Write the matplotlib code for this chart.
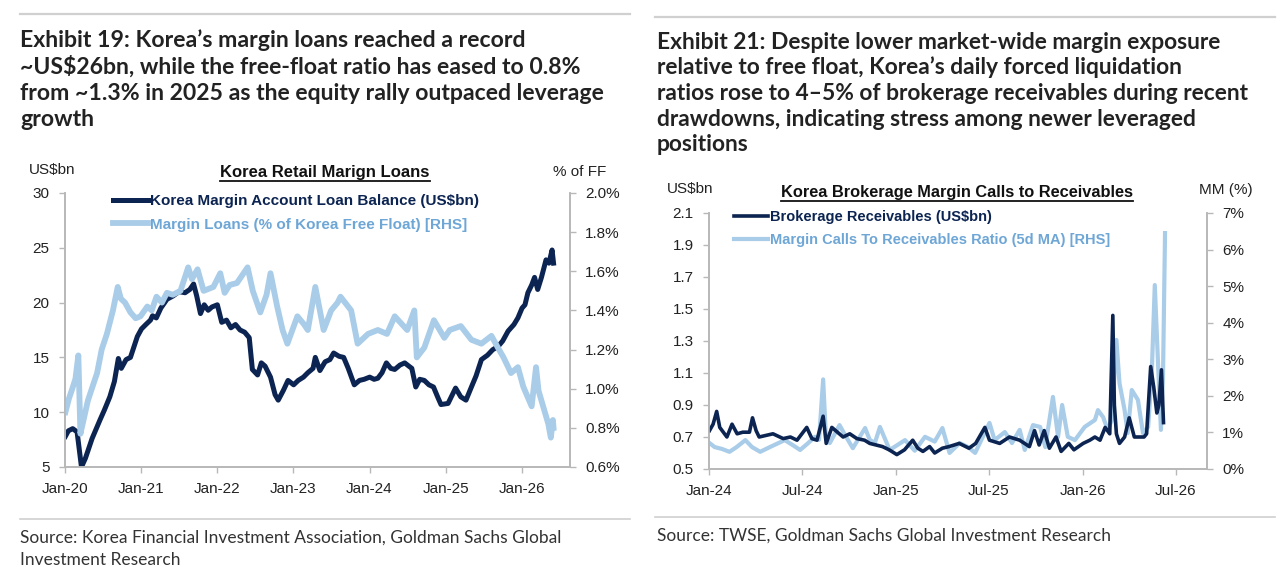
"""
Korea margin loans - two exhibit panels (Exhibit 19 / Exhibit 21)
"""

import pandas as pd
import matplotlib
matplotlib.use('Agg')
import matplotlib.pyplot as plt
import matplotlib.dates as mdates
from matplotlib.lines import Line2D
from matplotlib.ticker import FuncFormatter, MultipleLocator

# Colours
DARK = '#0c2451'
LIGHT = '#a9cce8'
LIGHT_TXT = '#6ea6d6'
AX_GREY = '#b8b8b8'
TXT = '#222222'
SEP = '#d0d0d0'

W, H = 1280, 567

# ---------------------------------------------------------------------------
# Exhibit 19 data: margin loan balance (US$bn) and % of free float
# ---------------------------------------------------------------------------
loan_dates = [
    '2020-01-03', '2020-01-17', '2020-02-07', '2020-02-28', '2020-03-20', '2020-04-08',
    '2020-05-10', '2020-06-17', '2020-07-08', '2020-08-03', '2020-08-25', '2020-09-13',
    '2020-09-27', '2020-10-20', '2020-11-10', '2020-12-13', '2021-01-02', '2021-01-23',
    '2021-02-14', '2021-02-24', '2021-03-14', '2021-04-05', '2021-05-04', '2021-06-02',
    '2021-07-01', '2021-07-30', '2021-08-22', '2021-09-09', '2021-09-24', '2021-10-12',
    '2021-10-30', '2021-11-18', '2021-12-06', '2022-01-01', '2022-01-22', '2022-02-14',
    '2022-03-07', '2022-03-29', '2022-04-20', '2022-05-12', '2022-06-03', '2022-06-18',
    '2022-07-13', '2022-07-31', '2022-08-18', '2022-09-13', '2022-10-05', '2022-10-20',
    '2022-11-14', '2022-12-06', '2023-01-02', '2023-01-24', '2023-02-18', '2023-03-11',
    '2023-04-05', '2023-04-16', '2023-05-08', '2023-06-02', '2023-06-25', '2023-07-13',
    '2023-08-08', '2023-08-30', '2023-09-21', '2023-10-20', '2023-11-14', '2023-12-06',
    '2024-01-02', '2024-01-23', '2024-02-10', '2024-03-01', '2024-03-22', '2024-04-12',
    '2024-05-01', '2024-05-26', '2024-06-18', '2024-07-08', '2024-07-22', '2024-08-10',
    '2024-08-29', '2024-09-20', '2024-10-12', '2024-11-03', '2024-11-25', '2024-12-09',
    '2025-01-12', '2025-01-30', '2025-02-17', '2025-03-14', '2025-04-08', '2025-05-04',
    '2025-05-26', '2025-06-21', '2025-07-20', '2025-08-14', '2025-09-09', '2025-10-01',
    '2025-10-27', '2025-11-24', '2025-12-13', '2026-01-02', '2026-01-16', '2026-01-30',
    '2026-02-17', '2026-03-03', '2026-03-18', '2026-04-05', '2026-04-27', '2026-05-11',
    '2026-05-26', '2026-06-02',
]
loan_bal = [
    7.8, 8.3, 8.5, 8.2, 5.0, 5.8,
    7.6, 9.3, 10.2, 11.4, 12.8, 14.9,
    14.0, 14.8, 15.0, 16.9, 17.6, 18.0,
    18.4, 18.8, 18.6, 19.5, 20.3, 20.6,
    21.0, 20.9, 21.2, 21.7, 20.6, 19.0,
    19.8, 19.3, 19.6, 19.8, 18.2, 18.4,
    17.7, 18.0, 17.5, 17.3, 16.8, 13.9,
    13.4, 14.5, 14.2, 13.2, 11.6, 11.1,
    12.0, 12.9, 12.5, 12.9, 13.2, 13.6,
    14.0, 15.0, 13.8, 14.6, 14.8, 15.4,
    15.1, 15.0, 14.0, 12.5, 12.9, 13.0,
    13.2, 13.0, 13.1, 13.6, 14.5, 14.0,
    13.9, 14.3, 14.5, 14.2, 14.0, 12.3,
    13.0, 12.9, 12.5, 12.3, 11.3, 10.7,
    10.8, 11.5, 12.2, 11.4, 11.1, 12.3,
    13.3, 14.8, 15.2, 15.7, 16.0, 16.5,
    17.4, 18.0, 18.6, 19.5, 19.8, 20.9,
    21.6, 22.3, 21.2, 22.3, 23.9, 23.6,
    24.8, 23.6,
]

ff_dates = [
    '2020-01-03', '2020-01-20', '2020-02-05', '2020-02-20', '2020-03-05', '2020-03-15',
    '2020-04-01', '2020-04-20', '2020-05-15', '2020-06-03', '2020-06-25', '2020-07-20',
    '2020-08-18', '2020-09-10', '2020-09-25', '2020-10-15', '2020-11-10', '2020-12-05',
    '2020-12-28', '2021-01-30', '2021-02-20', '2021-03-15', '2021-04-10', '2021-05-04',
    '2021-06-01', '2021-07-08', '2021-08-14', '2021-09-01', '2021-09-28', '2021-10-27',
    '2021-12-13', '2022-01-15', '2022-02-05', '2022-03-01', '2022-04-05', '2022-05-26',
    '2022-06-20', '2022-07-26', '2022-08-25', '2022-09-13', '2022-10-15', '2022-11-10',
    '2022-12-03', '2023-01-20', '2023-02-20', '2023-03-11', '2023-04-16', '2023-05-26',
    '2023-07-01', '2023-08-01', '2023-08-15', '2023-10-05', '2023-11-05', '2023-12-25',
    '2024-02-10', '2024-03-25', '2024-05-01', '2024-06-30', '2024-08-03', '2024-08-15',
    '2024-09-20', '2024-11-05', '2024-12-25', '2025-01-20', '2025-03-14', '2025-05-04',
    '2025-06-21', '2025-08-08', '2025-09-08', '2025-10-05', '2025-11-10', '2025-12-13',
    '2026-01-08', '2026-02-17', '2026-03-10', '2026-03-22', '2026-05-08', '2026-05-20',
    '2026-05-30', '2026-06-02',
]
ff_pct = [
    0.88, 0.95, 1.00, 1.05, 1.17, 0.77,
    0.85, 0.94, 1.02, 1.08, 1.20, 1.28,
    1.40, 1.52, 1.46, 1.44, 1.39, 1.36,
    1.37, 1.42, 1.40, 1.47, 1.44, 1.49,
    1.48, 1.50, 1.62, 1.56, 1.61, 1.50,
    1.52, 1.59, 1.49, 1.53, 1.54, 1.62,
    1.50, 1.39, 1.48, 1.59, 1.42, 1.30,
    1.23, 1.37, 1.33, 1.30, 1.52, 1.30,
    1.40, 1.44, 1.47, 1.40, 1.23, 1.28,
    1.30, 1.28, 1.37, 1.30, 1.40, 1.16,
    1.21, 1.35, 1.26, 1.30, 1.32, 1.25,
    1.23, 1.27, 1.21, 1.16, 1.08, 1.11,
    1.01, 0.91, 1.11, 0.99, 0.82, 0.75,
    0.84, 0.80,
]

# ---------------------------------------------------------------------------
# Exhibit 21 data: brokerage receivables (US$bn) and margin-call ratio (%)
# ---------------------------------------------------------------------------
recv_dates = [
    '2024-01-02', '2024-01-09', '2024-01-16', '2024-01-22', '2024-02-05', '2024-02-15',
    '2024-02-25', '2024-03-07', '2024-03-20', '2024-03-26', '2024-04-02', '2024-04-08',
    '2024-05-05', '2024-05-25', '2024-06-08', '2024-06-21', '2024-07-10', '2024-07-20',
    '2024-07-30', '2024-08-11', '2024-08-17', '2024-08-28', '2024-09-19', '2024-10-02',
    '2024-10-16', '2024-10-31', '2024-11-10', '2024-12-05', '2024-12-18', '2025-01-02',
    '2025-01-17', '2025-02-02', '2025-02-12', '2025-02-22', '2025-03-07', '2025-03-17',
    '2025-04-01', '2025-04-14', '2025-05-04', '2025-05-23', '2025-06-05', '2025-06-23',
    '2025-07-02', '2025-07-22', '2025-08-10', '2025-08-30', '2025-09-18', '2025-09-28',
    '2025-10-07', '2025-10-17', '2025-10-27', '2025-11-09', '2025-11-19', '2025-12-04',
    '2025-12-14', '2026-01-01', '2026-01-14', '2026-01-24', '2026-02-03', '2026-02-13',
    '2026-02-22', '2026-02-28', '2026-03-03', '2026-03-07', '2026-03-13', '2026-03-23',
    '2026-04-01', '2026-04-11', '2026-04-30', '2026-05-05', '2026-05-13', '2026-05-19',
    '2026-05-25', '2026-05-29', '2026-06-03', '2026-06-07',
]
recv_bal = [
    0.74, 0.78, 0.86, 0.76, 0.70, 0.78,
    0.72, 0.73, 0.73, 0.82, 0.74, 0.70,
    0.72, 0.69, 0.70, 0.68, 0.76, 0.69,
    0.68, 0.83, 0.66, 0.76, 0.70, 0.72,
    0.69, 0.68, 0.66, 0.64, 0.62, 0.59,
    0.62, 0.68, 0.63, 0.61, 0.64, 0.60,
    0.63, 0.64, 0.66, 0.63, 0.66, 0.76,
    0.68, 0.66, 0.70, 0.68, 0.64, 0.74,
    0.65, 0.74, 0.63, 0.70, 0.61, 0.66,
    0.62, 0.66, 0.68, 0.70, 0.68, 0.76,
    0.72, 1.46, 0.90, 0.72, 0.66, 0.70,
    0.82, 0.70, 0.70, 0.72, 1.14, 1.01,
    0.85, 0.90, 1.12, 0.79,
]

mc_dates = [
    '2024-01-02', '2024-01-12', '2024-01-26', '2024-02-10', '2024-02-24', '2024-03-12',
    '2024-03-25', '2024-04-10', '2024-04-29', '2024-05-28', '2024-06-13', '2024-06-27',
    '2024-07-12', '2024-07-26', '2024-08-03', '2024-08-11', '2024-08-16', '2024-08-24',
    '2024-09-12', '2024-09-24', '2024-10-08', '2024-11-01', '2024-11-10', '2024-11-20',
    '2024-11-30', '2024-12-19', '2025-01-18', '2025-02-06', '2025-02-26', '2025-03-17',
    '2025-04-01', '2025-04-15', '2025-05-05', '2025-05-21', '2025-06-04', '2025-06-19',
    '2025-07-02', '2025-07-12', '2025-08-01', '2025-08-15', '2025-08-30', '2025-09-09',
    '2025-09-25', '2025-10-09', '2025-10-19', '2025-11-03', '2025-11-13', '2025-11-21',
    '2025-12-02', '2025-12-16', '2026-01-04', '2026-01-24', '2026-01-30', '2026-02-09',
    '2026-02-18', '2026-02-26', '2026-03-07', '2026-03-13', '2026-03-23', '2026-03-29',
    '2026-04-06', '2026-04-18', '2026-04-28', '2026-05-08', '2026-05-15', '2026-05-21',
    '2026-05-27', '2026-06-02', '2026-06-06', '2026-06-10',
]
mc_ratio = [
    0.71, 0.60, 0.55, 0.47, 0.60, 0.79,
    0.60, 0.47, 0.60, 0.79, 0.65, 0.52,
    0.70, 0.88, 0.80, 2.45, 1.00, 0.71,
    1.20, 0.90, 0.57, 1.12, 0.80, 0.71,
    1.15, 0.52, 0.79, 0.50, 0.88, 0.75,
    1.12, 0.44, 0.71, 0.60, 0.44, 0.88,
    1.26, 0.79, 1.01, 0.71, 1.07, 0.52,
    1.20, 1.15, 0.60, 1.97, 0.88, 1.75,
    0.88, 0.79, 1.15, 1.34, 1.61, 1.42,
    1.07, 1.34, 3.53, 2.35, 1.61, 0.98,
    2.16, 1.89, 0.98, 1.15, 2.60, 5.03,
    3.00, 1.07, 2.50, 6.45,
]

# axis ticks
recv_ticks = [0.5, 0.7, 0.9, 1.1, 1.3, 1.5, 1.7, 1.9, 2.1]

# Text
title_19 = [
    'Exhibit 19: Korea\u2019s margin loans reached a record',
    '~US$26bn, while the free-float ratio has eased to 0.8%',
    'from ~1.3% in 2025 as the equity rally outpaced leverage',
    'growth',
]
title_21 = [
    'Exhibit 21: Despite lower market-wide margin exposure',
    'relative to free float, Korea\u2019s daily forced liquidation',
    'ratios rose to 4\u20135% of brokerage receivables during recent',
    'drawdowns, indicating stress among newer leveraged',
    'positions',
]
source_19 = ['Source: Korea Financial Investment Association, Goldman Sachs Global',
             'Investment Research']
source_21 = ['Source: TWSE, Goldman Sachs Global Investment Research']

HEAD_FONT = 'Lato'
CHART_FONT = 'Liberation Sans'


def fx(px):
    return px / W


def fy(py):
    return 1 - py / H


def style_axes(ax, axr, grey=AX_GREY):
    for a in (ax, axr):
        a.spines['top'].set_visible(False)
        for s in ('left', 'right', 'bottom'):
            a.spines[s].set_color(grey)
            a.spines[s].set_linewidth(1.2)
        a.tick_params(colors=grey, labelcolor=TXT, length=4, width=1,
                      labelsize=11, pad=7)
        for lab in a.get_xticklabels() + a.get_yticklabels():
            lab.set_family(CHART_FONT)


def underlined_title(fig, x, y, text, size):
    t = fig.text(fx(x), fy(y), text, ha='center', va='center', fontsize=size,
                 fontweight='bold', family=CHART_FONT, color='#111111')
    fig.canvas.draw()
    bb = t.get_window_extent()
    yl = bb.y0 - 1
    fig.add_artist(Line2D([bb.x0 / W, bb.x1 / W], [yl / H, yl / H],
                          transform=fig.transFigure, color='#111111', lw=1.3))


fig = plt.figure(figsize=(12.8, 5.67), dpi=100)
fig.patch.set_facecolor('white')

# separators
fig.add_artist(Line2D([fx(20), fx(630)], [fy(14), fy(14)], color=SEP, lw=1.6))
fig.add_artist(Line2D([fx(20), fx(630)], [fy(519), fy(519)], color=SEP, lw=1.2))
fig.add_artist(Line2D([fx(655), fx(1275)], [fy(17), fy(17)], color=SEP, lw=1.6))
fig.add_artist(Line2D([fx(655), fx(1275)], [fy(517), fy(517)], color=SEP, lw=1.2))

# headings
for i, line in enumerate(title_19):
    fig.text(fx(20), fy(47 + 26.5 * i), line, ha='left', va='baseline',
             fontsize=16.6, fontweight='bold', family=HEAD_FONT, color=TXT)
for i, line in enumerate(title_21):
    fig.text(fx(657), fy(49 + 25.5 * i), line, ha='left', va='baseline',
             fontsize=16.4, fontweight='bold', family=HEAD_FONT, color=TXT)
for i, line in enumerate(source_19):
    fig.text(fx(20), fy(543 + 22 * i), line, ha='left', va='baseline',
             fontsize=12.5, family=HEAD_FONT, color='#333333')
for i, line in enumerate(source_21):
    fig.text(fx(657), fy(541 + 22 * i), line, ha='left', va='baseline',
             fontsize=12.5, family=HEAD_FONT, color='#333333')

# ================================================================================
# Exhibit 19 chart
# ================================================================================
ax1 = fig.add_axes([fx(65), fy(467), 505 / W, 274 / H])
ax1r = ax1.twinx()

ax1.plot(pd.to_datetime(loan_dates), loan_bal, color=DARK, lw=3.6,
         solid_joinstyle='round', label='Korea Margin Account Loan Balance (US$bn)')
ax1r.plot(pd.to_datetime(ff_dates), ff_pct, color=LIGHT, lw=4.2,
          solid_joinstyle='round', label='Margin Loans (% of Korea Free Float) [RHS]')

ax1.set_xlim(pd.Timestamp('2020-01-01'), pd.Timestamp('2026-08-20'))
ax1.set_ylim(5, 30)
ax1.yaxis.set_major_locator(MultipleLocator(5))
ax1r.set_ylim(0.6, 2.0)
ax1r.yaxis.set_major_locator(MultipleLocator(0.2))
ax1r.yaxis.set_major_formatter(FuncFormatter(lambda v, p: f'{v:.1f}%'))
ax1.xaxis.set_major_locator(mdates.YearLocator())
ax1.xaxis.set_major_formatter(mdates.DateFormatter('%b-%y'))
style_axes(ax1, ax1r)

h1, l1 = ax1.get_legend_handles_labels()
h2, l2 = ax1r.get_legend_handles_labels()
leg = ax1r.legend(h1 + h2, l1 + l2, loc='upper left',
                  bbox_to_anchor=((113 - 65) / 505, 0.995),
                  frameon=False, borderpad=0, borderaxespad=0,
                  handlelength=2.3, handletextpad=0.15, labelspacing=0.62,
                  prop={'family': CHART_FONT, 'weight': 'bold', 'size': 11})
leg.get_texts()[0].set_color(DARK)
leg.get_texts()[1].set_color(LIGHT_TXT)

fig.text(fx(52), fy(170), 'US$bn', ha='center', va='center', fontsize=11,
         family=CHART_FONT, color=TXT)
fig.text(fx(580), fy(172), '% of FF', ha='center', va='center', fontsize=11,
         family=CHART_FONT, color=TXT)
underlined_title(fig, 325, 173, 'Korea Retail Marign Loans', 12)

# ================================================================================
# Exhibit 21 chart
# ================================================================================
ax2 = fig.add_axes([fx(709), fy(469), 498 / W, 256 / H])
ax2r = ax2.twinx()
ax2.set_zorder(ax2r.get_zorder() + 1)
ax2.patch.set_visible(False)

ax2.plot(pd.to_datetime(recv_dates), recv_bal, color=DARK, lw=2.6,
         label='Brokerage Receivables (US$bn)')
ax2r.plot(pd.to_datetime(mc_dates), mc_ratio, color=LIGHT, lw=3.0,
          label='Margin Calls To Receivables Ratio (5d MA) [RHS]')

ax2.set_xlim(pd.Timestamp('2024-01-01'), pd.Timestamp('2026-08-31'))
ax2.set_ylim(0.5, 2.1)
ax2.set_yticks(recv_ticks)
ax2.yaxis.set_major_formatter(FuncFormatter(lambda v, p: f'{v:.1f}'))
ax2r.set_ylim(0, 7)
ax2r.yaxis.set_major_locator(MultipleLocator(1))
ax2r.yaxis.set_major_formatter(FuncFormatter(lambda v, p: f'{v:.0f}%'))
ax2.xaxis.set_major_locator(mdates.MonthLocator(bymonth=[1, 7]))
ax2.xaxis.set_major_formatter(mdates.DateFormatter('%b-%y'))
style_axes(ax2, ax2r)

h1, l1 = ax2.get_legend_handles_labels()
h2, l2 = ax2r.get_legend_handles_labels()
leg2 = ax2.legend(h1 + h2, l1 + l2, loc='upper left',
                  bbox_to_anchor=((734 - 709) / 498, 1.01),
                  frameon=False, borderpad=0, borderaxespad=0,
                  handlelength=2.3, handletextpad=0.15, labelspacing=0.6,
                  prop={'family': CHART_FONT, 'weight': 'bold', 'size': 10.5})
leg2.get_texts()[0].set_color(DARK)
leg2.get_texts()[1].set_color(LIGHT_TXT)

fig.text(fx(690), fy(189), 'US$bn', ha='center', va='center', fontsize=11,
         family=CHART_FONT, color=TXT)
fig.text(fx(1226), fy(190), 'MM (%)', ha='center', va='center', fontsize=11,
         family=CHART_FONT, color=TXT)
underlined_title(fig, 957, 192, 'Korea Brokerage Margin Calls to Receivables', 11.8)

plt.savefig('out.png', dpi=100)
plt.close()
